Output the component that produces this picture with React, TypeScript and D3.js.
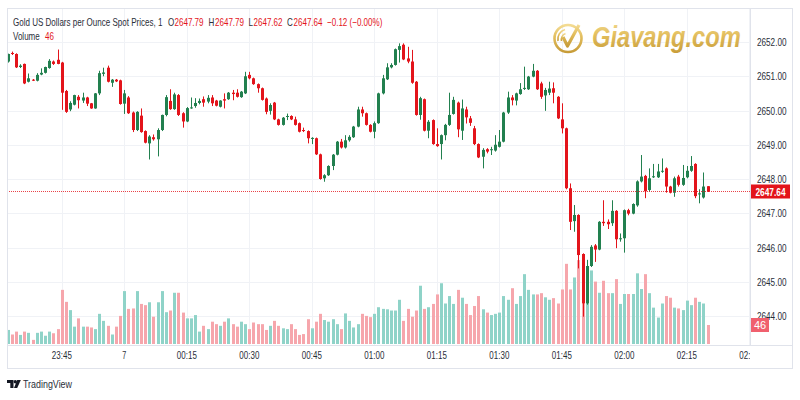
import * as d3 from "d3";

// 1-minute candles, first bar at 23:32 (minutes relative to 00:00)
const firstMinute = -28;

const opens = [
  2651.43, 2651.68, 2651.65, 2651.27, 2651.36, 2650.84, 2650.90, 2650.87, 2651.05, 2651.10,
  2651.24, 2651.43, 2651.48, 2651.40, 2650.57, 2650.03, 2650.17, 2650.40, 2650.29, 2650.38,
  2650.21, 2650.06, 2650.50, 2651.07, 2651.25, 2650.81, 2650.90, 2650.88,
  2650.20, 2650.38, 2649.94, 2649.43, 2649.85, 2649.40, 2649.04, 2649.22, 2649.16, 2649.43,
  2649.87, 2650.28, 2650.04, 2650.45, 2649.92, 2649.68, 2650.07, 2650.13, 2650.22, 2650.33,
  2650.26, 2650.38, 2650.29, 2650.11, 2650.33, 2650.33, 2650.52, 2650.52, 2650.39, 2650.50,
  2651.04, 2650.94, 2650.77, 2650.65, 2650.35, 2649.99, 2650.23, 2649.74, 2649.58, 2649.82,
  2649.84, 2649.74, 2649.63, 2649.43, 2649.40, 2649.17, 2649.19, 2648.72, 2648.02, 2648.11,
  2648.38, 2648.71, 2649.09, 2648.92, 2649.13, 2649.22, 2649.53, 2650.03, 2649.92, 2649.58,
  2649.38, 2649.63, 2650.50, 2650.91, 2651.26, 2651.33, 2651.77, 2651.92, 2651.52, 2651.43,
  2650.84, 2649.87, 2650.33, 2649.41, 2649.72, 2649.02, 2649.02, 2649.28, 2649.58, 2649.90,
  2650.23, 2649.41, 2650.03, 2649.77, 2649.48, 2649.02, 2648.65, 2648.87, 2648.84, 2648.83,
  2648.94, 2649.09, 2649.94, 2650.38, 2650.29, 2650.48, 2650.63, 2650.62, 2650.99, 2651.16,
  2650.79, 2650.44, 2650.52, 2650.65, 2650.40, 2649.74, 2649.48, 2647.73, 2646.77, 2646.95,
  2645.81, 2644.37, 2645.46, 2646.06, 2645.94, 2646.75, 2646.75, 2646.71, 2647.07, 2646.24,
  2646.27, 2647.09, 2646.99, 2647.23, 2647.93, 2648.09, 2647.68, 2648.05, 2648.05, 2648.22,
  2648.31, 2647.78, 2647.60, 2648.07, 2647.83, 2648.05, 2648.24, 2648.44, 2647.55, 2647.46,
  2647.79,
];

const highs = [
  2651.66, 2651.72, 2651.67, 2651.35, 2651.37, 2651.08, 2650.92, 2651.09, 2651.23, 2651.28,
  2651.50, 2651.46, 2651.78, 2651.42, 2650.60, 2650.27, 2650.46, 2650.45, 2650.52, 2650.40,
  2650.22, 2650.51, 2651.16, 2651.25, 2651.31, 2650.92, 2650.92, 2650.90,
  2650.60, 2650.42, 2649.97, 2649.98, 2650.06, 2649.42, 2649.28, 2649.30, 2649.48, 2649.88,
  2650.45, 2650.62, 2650.52, 2650.48, 2649.95, 2650.10, 2650.38, 2650.36, 2650.35, 2650.41,
  2650.45, 2650.45, 2650.31, 2650.30, 2650.50, 2650.54, 2650.60, 2650.62, 2650.57, 2651.13,
  2651.13, 2650.96, 2650.79, 2650.67, 2650.38, 2650.21, 2650.25, 2649.76, 2649.81, 2649.91,
  2649.86, 2649.82, 2649.65, 2649.50, 2649.42, 2649.22, 2649.21, 2648.74, 2648.14, 2648.40,
  2648.73, 2649.11, 2649.17, 2649.28, 2649.28, 2649.55, 2650.11, 2650.11, 2649.94, 2649.60,
  2649.68, 2650.52, 2651.04, 2651.38, 2651.38, 2651.81, 2651.96, 2651.96, 2651.86, 2651.77,
  2650.86, 2650.40, 2650.35, 2649.72, 2649.74, 2649.48, 2649.30, 2649.61, 2650.52, 2650.40,
  2650.26, 2650.32, 2650.11, 2649.84, 2649.55, 2649.04, 2648.90, 2648.90, 2648.94, 2649.28,
  2649.43, 2649.96, 2650.55, 2650.45, 2650.52, 2650.80, 2651.28, 2651.01, 2651.36, 2651.18,
  2650.84, 2650.66, 2650.84, 2650.82, 2650.42, 2650.21, 2649.50, 2647.87, 2647.24, 2646.97,
  2645.83, 2645.64, 2646.07, 2646.10, 2646.77, 2647.38, 2646.82, 2647.38, 2647.09, 2646.41,
  2647.11, 2647.13, 2647.29, 2647.96, 2648.70, 2648.12, 2648.31, 2648.44, 2648.44, 2648.60,
  2648.34, 2647.80, 2648.07, 2648.12, 2648.41, 2648.38, 2648.67, 2648.46, 2647.70, 2648.19,
  2647.79,
];

const lows = [
  2651.40, 2651.62, 2651.24, 2651.24, 2650.77, 2650.82, 2650.86, 2650.85, 2651.03, 2651.08,
  2651.22, 2651.33, 2651.35, 2650.02, 2649.93, 2649.98, 2650.15, 2650.06, 2650.22, 2650.13,
  2650.05, 2650.05, 2650.45, 2651.00, 2650.82, 2650.69, 2650.83, 2650.17,
  2649.90, 2649.90, 2649.37, 2649.40, 2649.35, 2649.04, 2648.57, 2649.12, 2648.66, 2649.40,
  2649.83, 2650.02, 2650.02, 2649.84, 2649.50, 2649.66, 2650.05, 2650.08, 2650.18, 2650.11,
  2650.21, 2650.13, 2650.12, 2650.09, 2650.06, 2650.31, 2650.30, 2650.38, 2650.37, 2650.48,
  2650.91, 2650.75, 2650.52, 2650.29, 2649.89, 2649.88, 2649.72, 2649.56, 2649.56, 2649.72,
  2649.72, 2649.56, 2649.36, 2649.37, 2649.04, 2649.02, 2648.70, 2647.98, 2647.92, 2648.09,
  2648.26, 2648.69, 2648.89, 2648.89, 2649.09, 2649.20, 2649.51, 2649.82, 2649.56, 2649.36,
  2649.19, 2649.61, 2650.47, 2650.89, 2651.23, 2651.31, 2651.40, 2651.47, 2651.38, 2650.78,
  2649.85, 2649.73, 2649.39, 2649.19, 2649.00, 2648.94, 2648.57, 2649.13, 2649.55, 2649.88,
  2649.22, 2649.14, 2649.62, 2649.55, 2648.99, 2648.61, 2648.31, 2648.75, 2648.70, 2648.80,
  2648.92, 2649.07, 2649.90, 2650.15, 2650.15, 2650.46, 2650.60, 2650.60, 2650.97, 2650.60,
  2650.34, 2649.99, 2650.45, 2650.21, 2649.75, 2649.33, 2647.70, 2646.51, 2646.46, 2645.39,
  2643.98, 2644.33, 2645.43, 2645.58, 2645.92, 2646.63, 2646.54, 2646.63, 2645.98, 2646.17,
  2645.85, 2646.94, 2646.97, 2647.19, 2647.90, 2647.44, 2647.63, 2648.03, 2648.03, 2648.18,
  2647.60, 2647.58, 2647.48, 2647.78, 2647.80, 2648.02, 2648.21, 2647.44, 2647.29, 2647.43,
  2647.62,
];

const closes = [
  2651.65, 2651.65, 2651.26, 2651.31, 2650.79, 2650.94, 2650.87, 2651.04, 2651.10, 2651.27,
  2651.45, 2651.36, 2651.36, 2650.52, 2649.96, 2650.22, 2650.45, 2650.30, 2650.38, 2650.20,
  2650.06, 2650.50, 2651.09, 2651.11, 2650.84, 2650.90, 2650.85, 2650.19,
  2650.50, 2649.92, 2649.43, 2649.96, 2649.37, 2649.06, 2649.24, 2649.16, 2649.43, 2649.87,
  2650.39, 2650.04, 2650.47, 2649.87, 2649.68, 2650.07, 2650.09, 2650.22, 2650.28, 2650.23,
  2650.37, 2650.21, 2650.14, 2650.29, 2650.29, 2650.52, 2650.48, 2650.40, 2650.55, 2651.00,
  2650.94, 2650.77, 2650.65, 2650.31, 2649.96, 2650.16, 2649.74, 2649.58, 2649.79, 2649.84,
  2649.74, 2649.58, 2649.38, 2649.40, 2649.19, 2649.20, 2648.72, 2648.00, 2648.11, 2648.38,
  2648.71, 2649.09, 2648.92, 2649.13, 2649.23, 2649.53, 2650.03, 2649.92, 2649.58, 2649.38,
  2649.63, 2650.50, 2650.94, 2651.26, 2651.33, 2651.79, 2651.88, 2651.49, 2651.43, 2650.81,
  2649.87, 2650.36, 2649.41, 2649.67, 2649.02, 2648.96, 2649.28, 2649.58, 2649.87, 2650.31,
  2649.45, 2650.06, 2649.80, 2649.64, 2649.02, 2648.63, 2648.85, 2648.80, 2648.87, 2649.00,
  2649.09, 2649.94, 2650.38, 2650.30, 2650.50, 2650.62, 2650.66, 2650.99, 2651.16, 2650.62,
  2650.40, 2650.60, 2650.64, 2650.52, 2649.77, 2649.48, 2647.73, 2646.75, 2646.95, 2645.78,
  2644.37, 2645.46, 2646.02, 2645.94, 2646.75, 2646.71, 2646.68, 2647.07, 2646.24, 2646.27,
  2647.09, 2646.99, 2647.27, 2647.93, 2648.07, 2647.64, 2648.02, 2648.08, 2648.22, 2648.24,
  2647.78, 2647.60, 2648.02, 2647.83, 2648.03, 2648.24, 2648.38, 2647.50, 2647.58, 2647.78,
  2647.64,
];

const volumes = [
  34, 23, 30, 22, 30, 27, 10, 27, 30, 20, 30, 26, 36, 131, 102, 82, 42, 62, 42, 42,
  40, 36, 73, 56, 44, 23, 42, 68,
  128, 85, 86, 128, 97, 94, 101, 66, 101, 128, 77, 81, 124, 124, 76, 62, 62, 70, 30, 44,
  36, 54, 48, 44, 54, 62, 48, 42, 54, 48, 36, 52, 48, 48, 34, 44, 56, 44, 38, 36,
  48, 36, 22, 24, 60, 38, 54, 73, 58, 54, 60, 48, 36, 74, 56, 40, 48, 73, 68, 65,
  73, 89, 85, 84, 81, 81, 107, 56, 85, 66, 81, 141, 85, 89, 97, 120, 147, 98, 116, 97,
  131, 112, 97, 70, 92, 116, 84, 76, 70, 73, 76, 116, 107, 135, 97, 116, 169, 131, 120, 120,
  123, 113, 107, 111, 98, 132, 194, 132, 161, 203, 200, 150, 178, 151, 124, 153, 123, 123, 157, 97,
  121, 121, 121, 171, 133, 169, 123, 88, 64, 98, 116, 112, 88, 86, 82, 105, 94, 112, 102, 98,
  46,
];

const priceTicks = [2644, 2645, 2646, 2647, 2648, 2649, 2650, 2651, 2652];
const timeTickMinutes = [-15, 0, 15, 30, 45, 60, 75, 90, 105, 120, 135, 150];
const timeTickLabels = ["23:45", "7", "00:15", "00:30", "00:45", "01:00", "01:15", "01:30", "01:45", "02:00", "02:15", "02:30"];

const lastPrice = 2647.64;
const lastVolume = 46;

const UP = "#22804f";
const DOWN = "#e3141b";
const UP_VOL = "#8fd3c8";
const DOWN_VOL = "#f6a6ac";
const GRID = "#f0f2f6";
const BORDER = "#e0e3eb";
const TEXT = "#2a2e39";
const FONT = "'Liberation Sans', Arial, sans-serif";

const PLOT = { left: 7, right: 750, top: 8, bottom: 345 };

// legend pieces: text, x, colour (drawn horizontally squeezed like the screenshot)
const legendRow = [
  { t: "Gold US Dollars per Ounce Spot Prices, 1", x: 13, red: false },
  { t: "O", x: 168, red: false },
  { t: "2647.79", x: 174.5, red: true },
  { t: "H", x: 208.5, red: false },
  { t: "2647.79", x: 215, red: true },
  { t: "L", x: 248.5, red: false },
  { t: "2647.62", x: 253.5, red: true },
  { t: "C", x: 287, red: false },
  { t: "2647.64", x: 293.5, red: true },
  { t: "−0.12 (−0.00%)", x: 327, red: true },
];
const SQUEEZE = 0.73;

export default function App() {
  const x = d3.scaleLinear().domain([0, 135]).range([124.33, 686.83]);
  const y = d3.scaleLinear().domain([2644, 2652]).range([316, 42]);
  const yVol = d3.scaleLinear().domain([0, 242]).range([344, 244]);

  const fmt = d3.format(".2f");

  return (
    <svg
      width={800}
      height={400}
      style={{ position: "absolute", left: 0, top: 0, background: "#fff" }}
      fontFamily={FONT}
    >
      <defs>
        <clipPath id="plot">
          <rect x={PLOT.left} y={PLOT.top} width={PLOT.right - PLOT.left} height={PLOT.bottom - PLOT.top} />
        </clipPath>
        <clipPath id="timeAxis">
          <rect x={PLOT.left} y={PLOT.bottom} width={PLOT.right - PLOT.left} height={24} />
        </clipPath>
        <linearGradient id="gold" x1="0" y1="0" x2="0" y2="1">
          <stop offset="0%" stopColor="#f3d98a" />
          <stop offset="45%" stopColor="#e0b84f" />
          <stop offset="100%" stopColor="#c39428" />
        </linearGradient>
      </defs>

      <rect width={800} height={400} fill="#fff" />

      {/* grid */}
      <g clipPath="url(#plot)">
        {priceTicks.map((p) => (
          <line key={p} x1={PLOT.left} x2={PLOT.right} y1={Math.round(y(p)) + 0.5} y2={Math.round(y(p)) + 0.5} stroke={GRID} />
        ))}
        {timeTickMinutes.map((m) => (
          <line key={m} x1={Math.round(x(m)) + 0.5} x2={Math.round(x(m)) + 0.5} y1={PLOT.top} y2={PLOT.bottom} stroke={GRID} />
        ))}
      </g>

      {/* watermark */}
      <g opacity={0.92}>
        <circle cx={568} cy={38.5} r={13.5} fill="none" stroke="url(#gold)" strokeWidth={2.6} />
        <path d="M558,41 A10,10 0 0 1 565,29.5" fill="none" stroke="url(#gold)" strokeWidth={1.6} />
        <path d="M561.5,41 A6.5,6.5 0 0 1 565.5,33.5" fill="none" stroke="url(#gold)" strokeWidth={1.6} />
        <path d="M563,37 L567.5,46 L579,25" fill="none" stroke="url(#gold)" strokeWidth={3.2} strokeLinejoin="round" />
        <text
          transform="translate(592,47) scale(0.79,1)"
          fontSize={30}
          fontWeight="bold"
          fontStyle="italic"
          fill="url(#gold)"
        >
          Giavang.com
        </text>
      </g>

      {/* volume + candles */}
      <g clipPath="url(#plot)">
        {volumes.map((v, i) => {
          const cx = Math.round(x(firstMinute + i));
          const up = closes[i] >= opens[i];
          return (
            <rect key={i} x={cx - 1} y={yVol(v)} width={3} height={yVol(0) - yVol(v)} fill={up ? UP_VOL : DOWN_VOL} />
          );
        })}
        {opens.map((o, i) => {
          const c = closes[i];
          const cx = Math.round(x(firstMinute + i));
          const up = c >= o;
          const col = up ? UP : DOWN;
          const top = y(Math.max(o, c));
          const h = Math.max(1, Math.abs(y(o) - y(c)));
          return (
            <g key={i}>
              <line x1={cx + 0.5} x2={cx + 0.5} y1={y(highs[i])} y2={y(lows[i])} stroke={col} />
              <rect x={cx - 1} y={top} width={3} height={h} fill={col} />
            </g>
          );
        })}
        <line
          x1={PLOT.left}
          x2={PLOT.right}
          y1={Math.round(y(lastPrice)) + 0.5}
          y2={Math.round(y(lastPrice)) + 0.5}
          stroke={DOWN}
          strokeOpacity={0.8}
          strokeDasharray="1 1"
        />
      </g>

      {/* legend */}
      <g fontSize={11}>
        {legendRow.map((d, i) => (
          <text key={i} transform={`translate(${d.x},26) scale(${SQUEEZE},1)`} fill={d.red ? DOWN : TEXT}>
            {d.t}
          </text>
        ))}
        <text transform={`translate(13,40) scale(${SQUEEZE},1)`} fill={TEXT}>Volume</text>
        <text transform={`translate(45,40) scale(${SQUEEZE},1)`} fill={DOWN}>{lastVolume}</text>
      </g>

      {/* frame */}
      <rect x={7.5} y={8.5} width={785} height={360} fill="none" stroke={BORDER} />
      <line x1={7} x2={793} y1={345.5} y2={345.5} stroke={BORDER} />
      <line x1={750.5} x2={750.5} y1={8} y2={345} stroke={BORDER} />

      {/* price axis */}
      <g fontSize={11} fill={TEXT}>
        {priceTicks.map((p) => (
          <text key={p} x={757} y={y(p) + 4} textLength={29.5} lengthAdjust="spacingAndGlyphs">
            {fmt(p)}
          </text>
        ))}
      </g>
      <rect x={751} y={Math.round(y(lastPrice)) - 6.5} width={39} height={14} fill={DOWN} />
      <text
        x={770.5}
        y={Math.round(y(lastPrice)) + 4.5}
        fontSize={11}
        fontWeight="bold"
        fill="#fff"
        textAnchor="middle"
        textLength={30}
        lengthAdjust="spacingAndGlyphs"
      >
        {fmt(lastPrice)}
      </text>
      <rect x={751} y={Math.round(yVol(lastVolume)) - 7} width={18} height={14} fill="#f0606e" />
      <text x={760} y={Math.round(yVol(lastVolume)) + 4} fontSize={11} fill="#fff" textAnchor="middle">
        {lastVolume}
      </text>

      {/* time axis */}
      <g fontSize={11} fill={TEXT} clipPath="url(#timeAxis)">
        {timeTickMinutes.map((m, i) => (
          <text
            key={m}
            x={x(m)}
            y={359}
            textAnchor="middle"
            textLength={timeTickLabels[i].length > 1 ? 20 : 4}
            lengthAdjust="spacingAndGlyphs"
          >
            {timeTickLabels[i]}
          </text>
        ))}
      </g>

      {/* TradingView mark */}
      <g fill="#131722">
        <path d="M7,380 h6.5 v8 h-3.2 v-5 h-3.3 z" />
        <circle cx={15.3} cy={381.7} r={1.7} />
        <path d="M17.2,380 h3.6 l-3.6,8 h-3.2 z" />
        <text x={23} y={387.5} fontSize={10} fill="#2a2e39" textLength={49} lengthAdjust="spacingAndGlyphs">
          TradingView
        </text>
      </g>
    </svg>
  );
}
